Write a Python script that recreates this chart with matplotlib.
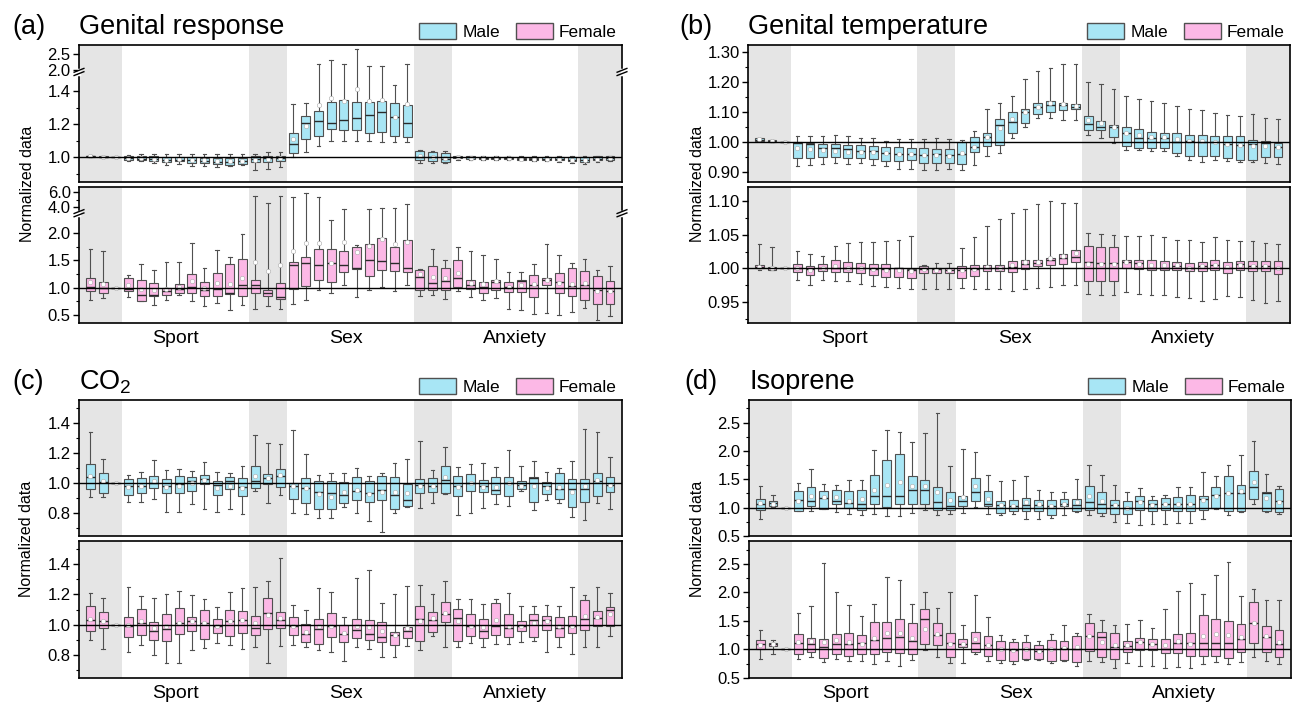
import numpy as np
import matplotlib
matplotlib.use("Agg")
import matplotlib.pyplot as plt
from matplotlib.patches import Patch

plt.rcParams['font.family'] = ['Liberation Sans', 'DejaVu Sans']
plt.rcParams['mathtext.fontset'] = 'custom'
plt.rcParams['mathtext.rm'] = 'Liberation Sans'

GROUPS = ["Sport", "Sex", "Anxiety"]
GROUP_X = [6.7, 20.2, 33.5]
SHADED = [(-2, 2.5), (12.5, 15.5), (25.5, 28.5), (38.5, 44)]

# ---- (a) Genital response, male (top) ----
A_M_LO = [1.0, 1.0, 1.0, .975, .975, .965, .95, .96, .945, .945, .94, .945, .95, .92, .93, .94,
          1.002, 1.032, 1.068, 1.099, 1.099, 1.1, 1.1, 1.094, 1.089, 1.094,
          .965, .965, .965, .985, .98, .98, .98, .985, .98, .975, .975, .97, .965, .96, .97, .975]
A_M_Q1 = [1.0, 1.0, 1.0, .985, .985, .975, .97, .975, .965, .965, .96, .955, .96, .97, .97, .975,
          1.026, 1.107, 1.127, 1.168, 1.164, 1.164, 1.145, 1.15, 1.127, 1.12,
          .98, .975, .97, .995, .99, .99, .99, .99, .985, .985, .985, .98, .975, .97, .98, .985]
A_M_MED = [1.005, 1.0, 1.0, .995, .99, .99, .985, .985, .98, .975, .97, .97, .975, .99, .995, .995,
           1.079, 1.204, 1.218, 1.208, 1.224, 1.234, 1.255, 1.275, 1.244, 1.206,
           1.0, 1.0, .99, 1.0, 1.0, .995, .995, .995, .99, .99, .99, .99, .985, .985, .99, .995]
A_M_Q3 = [1.01, 1.005, 1.0, 1.005, 1.005, 1.005, 1.0, 1.0, 1.0, .995, .995, .995, .995, 1.01, 1.01, 1.01,
          1.147, 1.25, 1.28, 1.335, 1.347, 1.335, 1.335, 1.34, 1.33, 1.315,
          1.035, 1.03, 1.025, 1.005, 1.005, 1.0, 1.0, 1.0, .995, .995, 1.0, 1.0, 1.0, 1.0, 1.005, 1.005]
A_M_HI = [1.015, 1.005, 1.0, 1.015, 1.02, 1.02, 1.02, 1.02, 1.02, 1.02, 1.02, 1.02, 1.02, 1.02, 1.03, 1.03,
          1.321, 1.325, 2.18, 2.31, 2.18, 2.65, 2.13, 2.13, 1.436, 2.18,
          1.045, 1.04, 1.035, 1.01, 1.01, 1.005, 1.01, 1.005, 1.005, 1.005, 1.005, 1.005, 1.005, 1.005, 1.01, 1.01]
A_M_MEAN = [1.008, 1.002, 1.0, .995, .995, .99, .985, .988, .982, .98, .975, .975, .978, .985, .99, .993,
            1.107, 1.19, 1.315, 1.36, 1.34, 1.41, 1.34, 1.345, 1.244, 1.32,
            1.005, 1.0, .995, 1.0, .998, .995, .995, .995, .99, .99, .99, .99, .985, .985, .99, .995]

# ---- (a) Genital response, female (bottom) ----
A_F_LO = [.778, .81, 1.0, .83, .75, .69, .78, .87, .76, .66, .72, .59, .68, .60, .66, .61,
          .70, .78, .96, .91, 1.04, .83, .96, 1.02, .93, 1.04,
          .85, .86, .79, .94, .82, .77, .81, .61, .59, .51, .53, .50, .56, .62, .41, .47]
A_F_Q1 = [.944, .895, 1.0, .944, .76, .84, .87, .91, .90, .84, .84, .88, .85, .91, .84, .80,
          .98, 1.03, 1.14, 1.10, 1.29, 1.34, 1.22, 1.33, 1.31, 1.28,
          .96, .96, .95, 1.02, .98, .91, .96, .92, .92, .82, 1.05, .91, .84, .78, .70, .70]
A_F_MED = [1.012, 1.0, 1.0, .97, .86, .87, .93, .97, 1.02, .95, .98, .90, 1.05, 1.04, .91, .83,
           1.42, 1.45, 1.42, 1.45, 1.42, 1.36, 1.50, 1.49, 1.46, 1.36,
           1.2, 1.08, 1.13, 1.18, 1.04, 1.02, 1.1, 1.02, 1.12, 1.04, 1.14, 1.11, 1.03, 1.05, .95, .93]
A_F_Q3 = [1.172, 1.1, 1.0, 1.17, 1.14, 1.08, .99, 1.06, 1.25, 1.11, 1.27, 1.44, 1.52, 1.14, .96, 1.08,
          1.47, 1.57, 1.71, 1.72, 1.68, 1.74, 1.80, 1.92, 1.74, 1.88,
          1.33, 1.39, 1.36, 1.51, 1.14, 1.10, 1.14, 1.10, 1.15, 1.24, 1.18, 1.27, 1.36, 1.31, 1.21, 1.13]
A_F_HI = [1.716, 1.67, 1.0, 1.24, 1.44, 1.33, 1.48, 1.48, 1.83, 1.37, 1.70, 1.56, 1.99, 5.47, 4.57, 5.47,
          5.3, 5.9, 5.3, 2.24, 3.7, 1.78, 3.7, 3.83, 3.9, 4.4,
          1.35, 1.72, 1.51, 1.74, 1.67, 1.6, 1.53, 1.28, 1.28, 1.44, 1.81, 1.6, 1.46, 1.53, 1.33, 1.39]
A_F_MEAN = [1.105, 1.06, 1.0, 1.05, .97, .96, .97, 1.02, 1.12, 1.0, 1.08, 1.07, 1.18, 1.47, 1.3, 1.41,
            1.67, 1.83, 1.83, 1.46, 1.84, 1.65, 1.76, 1.90, 1.81, 1.84,
            1.25, 1.2, 1.17, 1.27, 1.08, 1.06, 1.12, 1.02, 1.04, 1.06, 1.14, 1.08, 1.06, 1.08, .93, .93]

# ---- (b) Genital temperature, male ----
B_M_LO = [1.003, 1.0, 1.0, .921, .923, .926, .929, .926, .929, .923, .921, .91, .91, .907, .907, .91,
          .907, .923, .953, .965, 1.012, 1.051, 1.079, 1.081, 1.073, 1.073,
          1.023, 1.012, .996, .975, .972, .971, .971, .955, .94, .934, .94, .938, .932, .932, .929, .927]
B_M_Q1 = [1.005, 1.001, 1.0, .946, .946, .949, .949, .946, .946, .942, .938, .938, .94, .929, .929, .929,
          .927, .966, .988, .99, 1.031, 1.064, 1.093, 1.101, 1.107, 1.109,
          1.04, 1.04, 1.018, .988, .981, .979, .979, .964, .954, .954, .953, .946, .94, .94, .951, .949]
B_M_MED = [1.008, 1.003, 1.0, .998, .993, .979, .979, .976, .971, .971, .964, .96, .96, .957, .96, .957,
           .96, .984, 1.016, 1.057, 1.068, 1.101, 1.116, 1.123, 1.123, 1.118,
           1.06, 1.049, 1.051, 1.031, 1.012, 1.012, 1.012, 1.001, 1.004, 1.001, 1.001, .993, .99, .993, .996, .984]
B_M_Q3 = [1.012, 1.006, 1.0, 1.001, .998, .993, .993, .99, .99, .988, .984, .982, .979, .979, .976, .976,
          1.001, 1.016, 1.031, 1.076, 1.101, 1.109, 1.131, 1.138, 1.131, 1.126,
          1.087, 1.07, 1.057, 1.049, 1.043, 1.032, 1.029, 1.029, 1.023, 1.023, 1.021, 1.021, 1.021, 1.007, 1.004, .996]
B_M_HI = [1.014, 1.008, 1.0, 1.02, 1.02, 1.02, 1.023, 1.02, 1.014, 1.014, 1.004, 1.009, 1.009, 1.009, 1.012, 1.009,
          1.007, 1.037, 1.109, 1.131, 1.154, 1.21, 1.238, 1.246, 1.259, 1.259,
          1.201, 1.193, 1.176, 1.153, 1.143, 1.138, 1.129, 1.12, 1.11, 1.107, 1.098, 1.09, 1.087, 1.092, 1.079, 1.076]
B_M_MEAN = [1.009, 1.004, 1.0, .979, .976, .973, .971, .968, .968, .968, .964, .96, .96, .957, .957, .954,
            .962, .982, 1.016, 1.048, 1.076, 1.101, 1.118, 1.129, 1.127, 1.12,
            1.073, 1.062, 1.051, 1.031, 1.023, 1.018, 1.018, 1.009, 1.004, 1.004, 1.001, .993, .99, .988, .988, .984]

# ---- (b) Genital temperature, female ----
B_F_LO = [.998, .997, 1.0, .983, .976, .983, .981, .981, .977, .974, .972, .971, .969, .969, .97, .969,
          .971, .97, .969, .969, .967, .97, .971, .973, .976, .976,
          .962, .961, .961, .965, .962, .96, .96, .957, .956, .951, .955, .959, .958, .953, .948, .951]
B_F_Q1 = [1.0, .998, 1.0, .9945, .9905, .996, .9945, .9945, .9935, .991, .988, .987, .986, .9935, .993, .993,
          .986, .9895, .9955, .9955, .9945, .9995, 1.003, 1.0045, 1.006, 1.009,
          .982, .982, .981, 1.0005, .9995, .998, .998, .998, .996, .996, .997, .9935, .997, .9955, .9955, .992]
B_F_MED = [1.002, 1.0, 1.0, 1.001, .9995, 1.001, 1.001, 1.001, 1.001, .9995, .9985, 1.0, .998, .9995, .9995, .998,
           .998, .9995, 1.0005, 1.0005, 1.002, 1.007, 1.008, 1.013, 1.016, 1.017,
           1.0095, 1.008, 1.008, 1.0095, 1.008, 1.001, 1.001, 1.003, 1.001, 1.003, 1.0045, 1.001, 1.006, 1.003, 1.003, 1.001]
B_F_Q3 = [1.0045, 1.002, 1.0, 1.007, 1.0035, 1.007, 1.013, 1.0095, 1.008, 1.007, 1.006, 1.001, .9995, 1.003, 1.001, 1.001,
          1.0035, 1.0055, 1.0055, 1.0045, 1.011, 1.012, 1.013, 1.016, 1.021, 1.028,
          1.034, 1.032, 1.032, 1.013, 1.013, 1.012, 1.0105, 1.0095, 1.0085, 1.0095, 1.012, 1.0095, 1.0105, 1.0105, 1.0105, 1.0105]
B_F_HI = [1.036, 1.032, 1.0, 1.026, 1.021, 1.019, 1.033, 1.038, 1.039, 1.039, 1.041, 1.043, 1.048, 1.0045, 1.0085, 1.0085,
          1.031, 1.047, 1.063, 1.074, 1.082, 1.089, 1.096, 1.1, 1.097, 1.097,
          1.052, 1.051, 1.049, 1.048, 1.048, 1.049, 1.046, 1.043, 1.042, 1.039, 1.046, 1.043, 1.041, 1.041, 1.038, 1.037]
B_F_MEAN = [1.002, 1.0, 1.0, 1.001, .998, 1.001, 1.004, 1.001, 1.001, .9995, .998, .997, .996, .9995, .998, .998,
            .997, .9995, 1.002, 1.0005, 1.0045, 1.0095, 1.0095, 1.016, 1.019, 1.023,
            1.006, 1.007, 1.006, 1.0095, 1.007, 1.0045, 1.0045, 1.0045, 1.001, 1.003, 1.0045, 1.002, 1.0045, 1.003, 1.003, 1.001]

# ---- (c) CO2, male ----
C_M_LO = [.904, .909, 1.0, .876, .876, .891, .809, .809, .86, .827, .804, .827, .791, .949, .864, .92,
          .798, .793, .764, .764, .842, .798, .749, .676, .798, .84,
          .831, .869, .925, .787, .798, .831, .86, .849, .95, .82, .887, .864, .771, .753, .864, .827]
C_M_Q1 = [.958, .936, 1.0, .92, .931, .964, .931, .931, .947, .991, .92, .958, .913, .964, .993, .971,
          .891, .864, .827, .827, .864, .887, .876, .887, .824, .845,
          .931, .938, .936, .916, .947, .938, .927, .916, .958, .876, .924, .891, .838, .871, .916, .938]
C_M_MED = [1.038, 1.009, 1.0, .982, .98, .998, .98, .991, 1.016, 1.024, .987, 1.016, .976, 1.016, 1.031, 1.047,
           .98, .964, .942, .931, .92, .947, .931, .953, .92, .887,
           .987, .98, 1.02, .98, 1.002, .98, .953, .998, .987, 1.031, .98, .958, .958, .958, 1.016, .987]
C_M_Q3 = [1.127, 1.069, 1.0, 1.027, 1.031, 1.049, 1.027, 1.047, 1.042, 1.053, 1.016, 1.038, 1.036, 1.113, 1.058, 1.091,
          1.002, 1.031, 1.013, 1.013, 1.009, 1.042, 1.013, 1.047, 1.042, .993,
          1.027, 1.031, 1.116, 1.047, 1.058, 1.02, 1.042, 1.042, 1.013, 1.042, 1.009, 1.064, 1.027, 1.027, 1.064, 1.042]
C_M_HI = [1.342, 1.16, 1.0, 1.053, 1.071, 1.153, 1.087, 1.093, 1.08, 1.138, 1.071, 1.064, 1.116, 1.32, 1.269, 1.26,
          1.353, 1.191, 1.053, 1.069, 1.069, 1.098, 1.047, 1.069, 1.131, 1.158,
          1.282, 1.087, 1.238, 1.104, 1.127, 1.131, 1.104, 1.22, 1.116, 1.147, 1.071, 1.098, 1.147, 1.358, 1.342, 1.171]
C_M_MEAN = [1.047, 1.016, 1.0, .976, .98, 1.013, .971, .982, 1.002, 1.02, .969, .98, .969, 1.047, 1.031, 1.053,
            .98, .964, .927, .909, .942, .953, .927, .942, .938, .936,
            .98, .98, 1.042, .971, 1.002, .971, .971, .998, .98, .982, .964, .971, .942, .98, 1.02, .987]

# ---- (c) CO2, female ----
C_F_LO = [.9, .84, 1.0, .818, .862, .8, .749, .744, .833, .844, .878, .862, .838, .851, .749, .86,
          .867, .851, .833, .816, .76, .851, .838, .789, .789, .856,
          .833, .927, .851, .851, .878, .851, .873, .873, .882, .889, .822, .851, .804, .851, .851, .922]
C_F_Q1 = [.956, .978, 1.0, .916, .933, .9, .893, .94, .956, .907, .944, .927, .944, .933, .971, .978,
          .929, .882, .873, .918, .882, .911, .9, .882, .867, .911,
          .889, .951, 1.018, .893, .927, .911, .933, .918, .96, .918, .967, .918, .944, .962, .989, .989]
C_F_MED = [1.033, 1.027, 1.0, .993, 1.011, .956, .971, 1.011, 1.022, 1.011, .989, 1.022, 1.033, .978, 1.078, 1.029,
           .989, .938, .971, .993, .94, .962, .94, .918, .933, .956,
           1.038, 1.033, 1.067, 1.044, .993, .96, .989, .978, .993, 1.029, 1.029, .978, .989, 1.038, 1.044, 1.1]
C_F_Q3 = [1.122, 1.082, 1.0, 1.049, 1.104, 1.018, 1.067, 1.111, 1.051, 1.1, 1.038, 1.1, 1.089, 1.06, 1.178, 1.082,
          1.049, 1.004, 1.038, 1.078, 1.0, 1.038, 1.033, 1.018, .951, .984,
          1.122, 1.084, 1.149, 1.104, 1.067, 1.04, 1.144, 1.073, 1.022, 1.073, 1.06, 1.051, 1.06, 1.16, 1.093, 1.116]
C_F_HI = [1.211, 1.173, 1.0, 1.249, 1.189, 1.173, 1.2, 1.222, 1.193, 1.171, 1.118, 1.218, 1.24, 1.249, 1.289, 1.44,
          1.127, 1.096, 1.244, 1.218, 1.049, 1.311, 1.36, 1.144, 1.2, 1.256,
          1.262, 1.204, 1.289, 1.167, 1.171, 1.138, 1.171, 1.211, 1.122, 1.122, 1.133, 1.122, 1.249, 1.193, 1.249, 1.211]
C_F_MEAN = [1.038, 1.027, 1.0, 1.0, 1.022, .978, .989, 1.011, 1.022, 1.011, .989, 1.022, 1.033, 1.011, 1.062, 1.044,
            .989, .949, .989, .993, .944, .989, .984, .956, .933, .978,
            1.027, 1.044, 1.078, 1.022, .993, .982, 1.029, .989, .989, 1.011, 1.022, .989, .993, 1.056, 1.049, 1.067]

# ---- (d) Isoprene, male ----
D_M_LO = [.8, 1.02, 1.0, .94, .935, .97, .918, .894, .876, .888, .859, .859, .906, .965, .876, .894,
          .906, 1.006, .894, .865, .894, .8, .8, .818, .876, .92,
          .876, .847, .747, .729, .688, .712, .712, .729, .729, .8, .982, .876, .924, 1.065, .924, .888]
D_M_Q1 = [.965, 1.035, 1.0, .947, 1.024, .982, 1.071, .994, .965, 1.065, 1.006, 1.065, 1.071, 1.071, .953, .953,
          1.024, 1.112, 1.024, .906, .935, .947, .935, .865, 1.024, .935,
          .965, .906, .894, .894, .953, .935, .953, .941, .935, .953, .994, .935, .935, 1.159, .935, .924]
D_M_MED = [1.071, 1.08, 1.0, 1.141, 1.112, 1.171, 1.112, 1.082, 1.071, 1.2, 1.212, 1.2, 1.306, 1.318, 1.094, 1.035,
           1.124, 1.276, 1.065, 1.053, 1.035, 1.053, 1.053, 1.024, 1.071, 1.053,
           1.094, 1.071, 1.041, .994, 1.112, 1.071, 1.071, 1.071, 1.071, 1.153, 1.229, 1.259, 1.259, 1.365, 1.259, 1.112]
D_M_Q3 = [1.153, 1.124, 1.0, 1.3, 1.359, 1.3, 1.318, 1.288, 1.306, 1.571, 1.835, 1.947, 1.553, 1.482, 1.359, 1.271,
          1.212, 1.524, 1.288, 1.112, 1.129, 1.171, 1.129, 1.129, 1.153, 1.153,
          1.388, 1.271, 1.141, 1.112, 1.212, 1.141, 1.171, 1.182, 1.218, 1.2, 1.359, 1.553, 1.406, 1.653, 1.271, 1.329]
D_M_HI = [1.388, 1.229, 1.0, 1.435, 1.688, 1.424, 1.406, 1.482, 1.482, 2.012, 2.365, 2.329, 2.153, 2.318, 2.671, 1.741,
          2.035, 1.976, 1.582, 1.465, 1.494, 1.553, 1.318, 1.276, 1.276, 1.512,
          1.759, 1.582, 1.394, 1.271, 1.347, 1.212, 1.229, 1.359, 1.365, 1.629, 1.553, 1.747, 1.924, 2.171, 1.594, 1.376]
D_M_MEAN = [1.082, 1.07, 1.0, 1.112, 1.2, 1.182, 1.182, 1.124, 1.153, 1.318, 1.406, 1.447, 1.376, 1.376, 1.27, 1.129,
            1.182, 1.388, 1.153, 1.053, 1.035, 1.094, 1.065, 1.024, 1.071, 1.094,
            1.2, 1.112, 1.041, .994, 1.094, 1.053, 1.071, 1.071, 1.071, 1.141, 1.2, 1.259, 1.288, 1.447, 1.171, 1.094]

# ---- (d) Isoprene, female ----
D_F_LO = [.835, .924, 1.0, .835, .865, .776, .835, .806, .794, .747, .794, .718, .812, .988, .865, .765,
          .765, .912, .806, .765, .753, .82, .82, .765, .794, .718,
          .794, .776, .676, .765, .718, .718, .676, .694, .676, .753, .776, .753, .776, .865, .794, .753]
D_F_Q1 = [1.0, 1.059, 1.0, .924, .953, .853, .929, .894, .912, .912, .953, .941, .912, 1.088, 1.071, .865,
          1.047, .959, .894, .824, .806, .835, .841, .806, .824, .776,
          .971, .865, .841, .953, .982, .982, .941, .941, .894, .894, .882, .853, .953, 1.118, .953, .871]
D_F_MED = [1.088, 1.088, 1.0, 1.118, 1.088, 1.047, 1.1, 1.088, 1.118, 1.159, 1.206, 1.224, 1.147, 1.541, 1.247, 1.118,
           1.088, 1.106, 1.071, 1.0, .982, 1.0, .971, 1.0, 1.029, 1.0,
           1.235, 1.224, 1.047, 1.059, 1.129, 1.088, 1.012, 1.106, 1.118, 1.106, 1.106, 1.106, 1.176, 1.471, 1.224, 1.088]
D_F_Q3 = [1.159, 1.118, 1.0, 1.265, 1.206, 1.176, 1.265, 1.282, 1.247, 1.488, 1.488, 1.541, 1.459, 1.706, 1.471, 1.282,
          1.188, 1.312, 1.235, 1.147, 1.129, 1.129, 1.076, 1.165, 1.147, 1.235,
          1.471, 1.312, 1.282, 1.147, 1.206, 1.188, 1.176, 1.265, 1.294, 1.6, 1.541, 1.5, 1.453, 1.824, 1.412, 1.341]
D_F_HI = [1.341, 1.165, 1.0, 1.647, 1.765, 2.518, 2.0, 1.776, 1.588, 1.794, 2.265, 2.218, 1.794, 2.0, 1.718, 2.0,
          1.424, 1.953, 1.576, 1.247, 1.188, 1.247, 1.147, 1.265, 1.429, 1.294,
          1.629, 1.518, 1.429, 1.441, 1.512, 1.371, 1.706, 2.018, 2.159, 1.971, 2.306, 2.529, 1.941, 2.059, 1.871, 1.871]
D_F_MEAN = [1.076, 1.088, 1.0, 1.129, 1.147, 1.129, 1.159, 1.129, 1.088, 1.206, 1.294, 1.282, 1.206, 1.365, 1.265, 1.1,
            1.088, 1.176, 1.071, 1.0, .982, 1.0, .971, 1.0, 1.029, 1.047,
            1.235, 1.129, 1.076, 1.076, 1.129, 1.088, 1.071, 1.147, 1.088, 1.235, 1.265, 1.247, 1.224, 1.471, 1.235, 1.135]

MALE_C = "#a8e6f5"
FEMALE_C = "#fcb8e6"
EDGE = "#505050"
W, H = 1292, 703


def box_stats(lo, q1, med, q3, hi, mean):
    return [dict(whislo=a, q1=b, med=c, q3=d, whishi=e, mean=f, fliers=[])
            for a, b, c, d, e, f in zip(lo, q1, med, q3, hi, mean)]


def broken(b1, b2, r):
    def fwd(y):
        y = np.asarray(y, float)
        return np.where(y <= b1, y, np.where(y >= b2, b1 + (y - b2) * r, b1))

    def inv(z):
        z = np.asarray(z, float)
        return np.where(z <= b1, z, b2 + (z - b1) / r)
    return fwd, inv


def add_ax(px_left, px_top, px_w, px_h):
    return fig.add_axes([px_left / W, 1 - (px_top + px_h) / H, px_w / W, px_h / H])


def draw(ax, stats, color, ylim, majors, minors, fmt, scale=None):
    for a, b in SHADED:
        ax.axvspan(a, b, color="#e5e5e5", lw=0, zorder=0)
    if scale is not None:
        ax.set_yscale("function", functions=scale)
    ax.bxp(stats, positions=range(len(stats)), widths=0.7, capwidths=0.28,
           showmeans=True, showfliers=False, patch_artist=True, manage_ticks=False,
           boxprops=dict(facecolor=color, edgecolor=EDGE, lw=0.8),
           medianprops=dict(color="#2a2a2a", lw=1.0),
           whiskerprops=dict(color=EDGE, lw=0.8),
           capprops=dict(color=EDGE, lw=0.8),
           meanprops=dict(marker="o", markerfacecolor="white", markeredgecolor="#aaaaaa",
                          markersize=3.2, markeredgewidth=0.4),
           zorder=2)
    ax.axhline(1.0, color="black", lw=1.0, zorder=3)
    ax.set_xlim(-0.9, 41.95)
    ax.set_ylim(*ylim)
    ax.set_xticks([])
    ax.set_yticks(majors)
    ax.set_yticklabels([fmt % v for v in majors])
    ax.set_yticks(minors, minor=True)
    ax.tick_params(axis="y", which="major", direction="out", length=4, width=1, labelsize=12, pad=2)
    ax.tick_params(axis="y", which="minor", direction="out", length=2.5, width=0.8)
    for s in ax.spines.values():
        s.set_linewidth(1.2)


def break_marks(ax, fwd, ylim, b1):
    lo, hi = fwd(ylim[0]), fwd(ylim[1])
    frac = float((b1 - lo) / (hi - lo))
    for x in (0, 1):
        ax.plot([x, x], [frac - 0.012, frac + 0.012], transform=ax.transAxes,
                color="white", lw=2.5, clip_on=False, zorder=6)
        for dy in (-0.012, 0.012):
            ax.plot([x - 0.009, x + 0.009], [frac + dy - 0.014, frac + dy + 0.014],
                    transform=ax.transAxes, color="black", lw=1.0, clip_on=False, zorder=7)


def legend(ax):
    handles = [Patch(facecolor=MALE_C, edgecolor=EDGE, lw=1, label="Male"),
               Patch(facecolor=FEMALE_C, edgecolor=EDGE, lw=1, label="Female")]
    ax.legend(handles=handles, loc="lower right", bbox_to_anchor=(1.0, 1.0), ncol=2,
              frameon=False, fontsize=12.5, handlelength=2.15, handleheight=1.05,
              handletextpad=0.35, columnspacing=0.9, borderaxespad=0.2, borderpad=0.1)


def groups(ax):
    for name, x in zip(GROUPS, GROUP_X):
        ax.text(x, -0.115, name, transform=ax.get_xaxis_transform(), ha="center", va="center",
                fontsize=14)


fig = plt.figure(figsize=(W / 100, H / 100), dpi=100)

# panel geometry in pixels
LEFT_A, LEFT_B, PW = 79, 748, 542
TOP1, BOT1, TOP2, BOT2 = 45, 187, 400, 541
AH = 136

# (a)
fa, _ = broken(1.515, 1.94, 0.194)
ax = add_ax(LEFT_A, TOP1, PW + 1, AH + 1)
draw(ax, box_stats(A_M_LO, A_M_Q1, A_M_MED, A_M_Q3, A_M_HI, A_M_MEAN), MALE_C, (0.85, 2.78),
     [1.0, 1.2, 1.4, 2.0, 2.5], [0.9, 1.1, 1.3, 1.5], "%.1f", broken(1.515, 1.94, 0.194))
break_marks(ax, fa, (0.85, 2.78), 1.515)
legend(ax)
fb, _ = broken(2.37, 3.2, 0.139)
ax = add_ax(LEFT_A, BOT1, PW + 1, AH)
draw(ax, box_stats(A_F_LO, A_F_Q1, A_F_MED, A_F_Q3, A_F_HI, A_F_MEAN), FEMALE_C, (0.35, 6.67),
     [0.5, 1.0, 1.5, 2.0, 4.0, 6.0], [0.75, 1.25, 1.75, 5.0], "%.1f", broken(2.37, 3.2, 0.139))
break_marks(ax, fb, (0.35, 6.67), 2.37)
groups(ax)

# (b)
ax = add_ax(LEFT_B, TOP1, PW, AH + 1)
draw(ax, box_stats(B_M_LO, B_M_Q1, B_M_MED, B_M_Q3, B_M_HI, B_M_MEAN), MALE_C, (0.867, 1.323),
     [0.9, 1.0, 1.1, 1.2, 1.3], [0.95, 1.05, 1.15, 1.25], "%.2f")
legend(ax)
ax = add_ax(LEFT_B, BOT1, PW, AH)
draw(ax, box_stats(B_F_LO, B_F_Q1, B_F_MED, B_F_Q3, B_F_HI, B_F_MEAN), FEMALE_C, (0.919, 1.121),
     [0.95, 1.0, 1.05, 1.10], [0.925, 0.975, 1.025, 1.075], "%.2f")
groups(ax)

# (c)
ax = add_ax(LEFT_A, TOP2, PW + 1, AH)
draw(ax, box_stats(C_M_LO, C_M_Q1, C_M_MED, C_M_Q3, C_M_HI, C_M_MEAN), MALE_C, (0.647, 1.553),
     [0.8, 1.0, 1.2, 1.4], [0.7, 0.9, 1.1, 1.3, 1.5], "%.1f")
legend(ax)
ax = add_ax(LEFT_A, BOT2, PW + 1, AH + 1)
draw(ax, box_stats(C_F_LO, C_F_Q1, C_F_MED, C_F_Q3, C_F_HI, C_F_MEAN), FEMALE_C, (0.647, 1.553),
     [0.8, 1.0, 1.2, 1.4], [0.7, 0.9, 1.1, 1.3, 1.5], "%.1f")
groups(ax)

# (d)
ax = add_ax(LEFT_B + 1, TOP2, PW, AH)
draw(ax, box_stats(D_M_LO, D_M_Q1, D_M_MED, D_M_Q3, D_M_HI, D_M_MEAN), MALE_C, (0.5, 2.9),
     [0.5, 1.0, 1.5, 2.0, 2.5], [0.75, 1.25, 1.75, 2.25, 2.75], "%.1f")
legend(ax)
ax = add_ax(LEFT_B + 1, BOT2, PW, AH + 1)
draw(ax, box_stats(D_F_LO, D_F_Q1, D_F_MED, D_F_Q3, D_F_HI, D_F_MEAN), FEMALE_C, (0.5, 2.9),
     [0.5, 1.0, 1.5, 2.0, 2.5], [0.75, 1.25, 1.75, 2.25, 2.75], "%.1f")
groups(ax)

# titles and y labels
for lab, title, x0, x1, y in [("(a)", "Genital response", 12, 79, 27),
                              ("(b)", "Genital temperature", 679, 748, 27),
                              ("(c)", "CO$_2$", 12, 79, 382),
                              ("(d)", "Isoprene", 684, 750, 382)]:
    fig.text(x0 / W, 1 - y / H, lab, fontsize=19.5, ha="left", va="center")
    fig.text(x1 / W, 1 - y / H, title, fontsize=19.5, ha="left", va="center")

for x, y in [(28, 184), (697, 184), (27, 539), (697, 539)]:
    fig.text(x / W, 1 - y / H, "Normalized data", rotation=90, fontsize=11.5,
             ha="center", va="center")

fig.savefig("out.png", dpi=100)
